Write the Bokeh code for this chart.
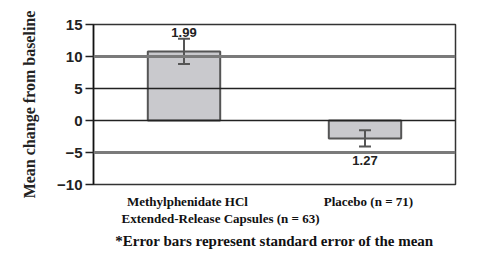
from bokeh.plotting import figure
from bokeh.models import Range1d, Span, Label, FixedTicker, LinearAxis, Title
from bokeh.embed import file_html
from bokeh.resources import INLINE

# data
group_line1 = ["Methylphenidate HCl", "Placebo (n = 71)"]
group_line2 = ["Extended-Release Capsules (n = 63)"]
means = [10.8, -2.8]
se = [1.99, 1.27]
se_labels = ["1.99", "1.27"]
y_ticks = [-10, -5, 0, 5, 10, 15]
thick_grid = [10, -5]
thin_grid = [5, 0]
footnote = "*Error bars represent standard error of the mean"
y_title = "Mean change from baseline"

xs = [0.5, 1.5]
p = figure(width=477, height=259, output_backend="svg", toolbar_location=None,
           x_range=Range1d(0, 2), y_range=Range1d(-10, 15),
           min_border_left=93, min_border_right=22, min_border_top=24, min_border_bottom=75)
p.xaxis.visible = False
p.grid.visible = False
p.outline_line_color = "#333333"
p.outline_line_width = 1.5
p.background_fill_color = "white"
p.border_fill_color = "white"

ax = p.yaxis[0]
ax.ticker = FixedTicker(ticks=y_ticks)
ax.minor_tick_line_color = None
ax.major_tick_out = 8
ax.major_tick_in = 0
ax.major_tick_line_width = 1.5
ax.major_tick_line_color = "#222222"
ax.axis_line_width = 1.5
ax.axis_line_color = "#111111"
ax.major_label_text_font = "Liberation Sans"
ax.major_label_text_font_style = "bold"
ax.major_label_text_font_size = "15px"
ax.major_label_text_color = "#222222"
ax.major_label_standoff = 3
ax.axis_label = y_title
ax.axis_label_text_font = "Liberation Serif"
ax.axis_label_text_font_style = "bold"
ax.axis_label_text_font_size = "16px"
ax.axis_label_text_color = "#222222"
ax.axis_label_standoff = 16

# category label axes below
cat_font = dict(major_label_text_font="Liberation Serif", major_label_text_font_style="bold",
                major_label_text_font_size="13px", major_label_text_color="#111111")
ax1 = LinearAxis(ticker=FixedTicker(ticks=[0.519, 1.519]),
                 major_label_overrides={0.519: group_line1[0], 1.519: group_line1[1]},
                 axis_line_color=None, major_tick_line_color=None, minor_tick_line_color=None,
                 major_label_standoff=3, **cat_font)
ax2 = LinearAxis(ticker=FixedTicker(ticks=[0.702]),
                 major_label_overrides={0.702: group_line2[0]},
                 axis_line_color=None, major_tick_line_color=None, minor_tick_line_color=None,
                 major_label_standoff=-7, **cat_font)
p.add_layout(ax1, "below")
p.add_layout(ax2, "below")
p.add_layout(Title(text=footnote, align="center", text_font="Liberation Serif", text_font_style="bold",
                   text_font_size="15px", text_color="#111111", standoff=4, offset=20), "below")

for v in thick_grid:
    p.add_layout(Span(location=v, dimension="width", line_color="#7a7a7a", line_width=3))
for v in thin_grid:
    p.add_layout(Span(location=v, dimension="width", line_color="#222222", line_width=1.5))

lo = [m - s for m, s in zip(means, se)]
hi = [m + s for m, s in zip(means, se)]
p.vbar(x=xs, top=means, bottom=0, width=0.4,
       fill_color="#c9c9cd", line_color="#555555", line_width=2)
p.segment(x0=xs, x1=xs, y0=lo, y1=hi, line_color="#555555", line_width=2)
p.segment(x0=[x - 0.033 for x in xs], x1=[x + 0.033 for x in xs], y0=hi, y1=hi,
          line_color="#555555", line_width=2)
p.segment(x0=[x - 0.033 for x in xs], x1=[x + 0.033 for x in xs], y0=lo, y1=lo,
          line_color="#555555", line_width=2)

# SE labels
p.add_layout(Label(x=xs[0], y=hi[0] + 0.3, text=se_labels[0], text_align="center",
                   text_baseline="bottom", text_font="Liberation Sans", text_font_style="bold",
                   text_font_size="13px", text_color="#222222"))
p.add_layout(Label(x=xs[1], y=lo[1] - 1.5, text=se_labels[1], text_align="center",
                   text_baseline="top", text_font="Liberation Sans", text_font_style="bold",
                   text_font_size="13px", text_color="#222222"))

open("out.html", "w").write(file_html(p, INLINE))
